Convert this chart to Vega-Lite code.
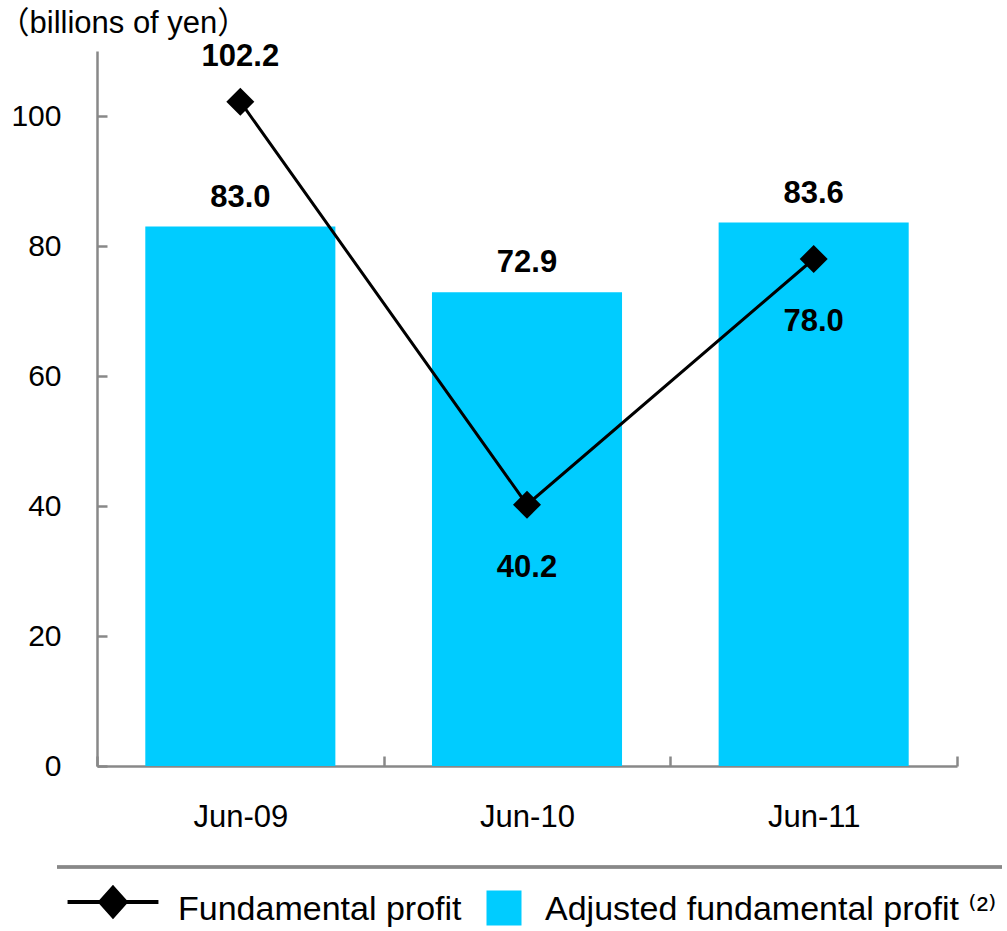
{
  "$schema": "https://vega.github.io/schema/vega-lite/v6.json",
  "width": 860,
  "height": 715,
  "autosize": {"type": "none"},
  "padding": {"left": 97, "top": 51, "right": 50, "bottom": 165},
  "background": "white",
  "config": {
    "view": {"stroke": null},
    "font": "Liberation Sans",
    "axis": {"grid": false, "domainColor": "#888888", "domainWidth": 2.5, "tickColor": "#888888", "tickWidth": 2.5, "labelColor": "black", "labelFont": "Liberation Sans"}
  },
  "data": {
    "values": [
      {"period": "Jun-09", "fundamental": 102.2, "adjusted": 83.0},
      {"period": "Jun-10", "fundamental": 40.2, "adjusted": 72.9},
      {"period": "Jun-11", "fundamental": 78.0, "adjusted": 83.6}
    ]
  },
  "encoding": {
    "x": {
      "field": "period", "type": "nominal", "sort": null,
      "scale": {"paddingInner": 0, "paddingOuter": 0},
      "axis": {"title": null, "labelAngle": 0, "labelFontSize": 31, "tickBand": "extent", "tickSize": -10, "labelPadding": 70, "labelBaseline": "alphabetic"}
    }
  },
  "layer": [
    {
      "mark": {"type": "bar", "width": {"band": 0.663}},
      "encoding": {
        "y": {
          "field": "adjusted", "type": "quantitative",
          "scale": {"domain": [0, 110], "nice": false},
          "axis": {"values": [0, 20, 40, 60, 80, 100], "labelFontSize": 30, "tickSize": -10, "labelPadding": 46,
            "title": "（billions of yen）", "titleAngle": 0, "titleX": -99, "titleY": -19, "titleAlign": "left", "titleBaseline": "alphabetic",
            "titleFont": "Liberation Sans, Noto Sans CJK JP", "titleFontSize": 31, "titleFontWeight": "normal", "titleColor": "black"}
        },
        "fill": {
          "datum": "Adjusted fundamental profit", "type": "nominal",
          "scale": {"range": ["#00CCFF"]},
          "legend": {"orient": "none", "legendX": 389.5, "legendY": 839.5, "title": null, "padding": 0,
            "symbolType": "square", "symbolSize": 1225, "symbolStrokeWidth": 0, "symbolOpacity": 1,
            "labelFont": "Liberation Sans, DejaVu Sans", "labelFontSize": 34, "labelColor": "black", "labelOffset": 23.5, "labelLimit": 0,
            "labelExpr": "datum.label + ' ⁽²⁾'",
            "encode": {"labels": {"update": {"dy": {"value": 2}}}}}
        }
      }
    },
    {
      "mark": {"type": "text", "font": "Liberation Sans", "fontWeight": "bold", "fontSize": 31, "baseline": "alphabetic", "dy": -20, "color": "black"},
      "encoding": {
        "y": {"field": "adjusted", "type": "quantitative", "scale": {"domain": [0, 110], "nice": false}},
        "text": {"field": "adjusted", "type": "quantitative", "format": ".1f"}
      }
    },
    {
      "mark": {"type": "rule", "color": "#888888", "strokeWidth": 3},
      "encoding": {
        "x": {"datum": "Jun-09", "type": "nominal", "bandPosition": -0.1395},
        "x2": {"datum": "Jun-11", "bandPosition": 1.157},
        "y": {"datum": -15.54, "type": "quantitative", "scale": {"domain": [0, 110], "nice": false}}
      }
    },
    {
      "mark": {"type": "line", "strokeWidth": 3},
      "encoding": {
        "y": {"field": "fundamental", "type": "quantitative", "scale": {"domain": [0, 110], "nice": false}},
        "stroke": {
          "datum": "Fundamental profit", "type": "nominal",
          "scale": {"range": ["black"]},
          "legend": {"orient": "none", "legendX": -1, "legendY": 834, "title": null, "padding": 0,
            "symbolType": "M-3.03,0H3.03M0,-0.95L0.85,0L0,0.95L-0.85,0Z", "symbolSize": 900, "symbolStrokeWidth": 4,
            "symbolFillColor": "black", "symbolStrokeColor": "black",
            "labelFont": "Liberation Sans", "labelFontSize": 34, "labelColor": "black", "labelOffset": 48, "labelLimit": 0,
            "encode": {
              "symbols": {"update": {"fill": {"value": "black"}, "stroke": {"value": "black"}, "opacity": {"value": 1}}},
              "labels": {"update": {"dy": {"value": 8}}}
            }}
        }
      }
    },
    {
      "mark": {"type": "point", "shape": "diamond", "size": 784, "filled": true, "color": "black", "opacity": 1},
      "encoding": {
        "y": {"field": "fundamental", "type": "quantitative", "scale": {"domain": [0, 110], "nice": false}}
      }
    },
    {
      "transform": [{"filter": "datum.period === 'Jun-09'"}],
      "mark": {"type": "text", "font": "Liberation Sans", "fontWeight": "bold", "fontSize": 31, "baseline": "alphabetic", "dy": -36, "color": "black"},
      "encoding": {
        "y": {"field": "fundamental", "type": "quantitative", "scale": {"domain": [0, 110], "nice": false}},
        "text": {"field": "fundamental", "type": "quantitative", "format": ".1f"}
      }
    },
    {
      "transform": [{"filter": "datum.period !== 'Jun-09'"}],
      "mark": {"type": "text", "font": "Liberation Sans", "fontWeight": "bold", "fontSize": 31, "baseline": "alphabetic", "dy": 72, "color": "black"},
      "encoding": {
        "y": {"field": "fundamental", "type": "quantitative", "scale": {"domain": [0, 110], "nice": false}},
        "text": {"field": "fundamental", "type": "quantitative", "format": ".1f"}
      }
    }
  ]
}
